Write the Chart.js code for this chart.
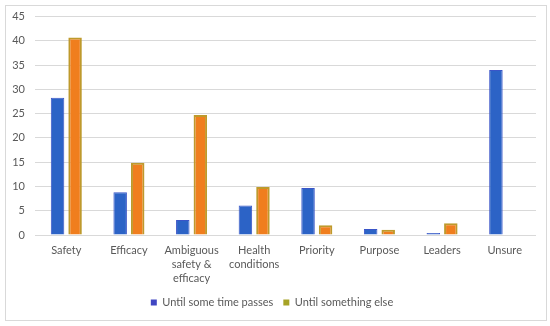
<!DOCTYPE html>
<html>
<head>
<meta charset="utf-8">
<script src="https://cdn.jsdelivr.net/npm/chart.js@4/dist/chart.umd.min.js"></script>
<style>
  html, body { margin: 0; padding: 0; background: #fff; }
  #wrap { position: relative; width: 550px; height: 326px; }
  #frame { position: absolute; left: 5px; top: 5px; width: 540px; height: 314px; border: 1px solid #D9D9D9; pointer-events: none; }
</style>
</head>
<body>
<div id="wrap">
  <canvas id="c" width="550" height="326"></canvas>
  <div id="frame"></div>
</div>
<script>
const categories = [
  'Safety',
  'Efficacy',
  ['Ambiguous', 'safety &', 'efficacy'],
  ['Health', 'conditions'],
  'Priority',
  'Purpose',
  'Leaders',
  'Unsure'
];
const seriesNames = ['Until some time passes', 'Until something else'];
const timePasses = [28.3, 8.8, 3.1, 6.1, 9.7, 1.25, 0.4, 34.0];
const somethingElse = [40.7, 14.9, 24.7, 9.9, 2.0, 1.1, 2.4, 0];
const yTicks = [0, 5, 10, 15, 20, 25, 30, 35, 40, 45];

const FONT = 'Lato, "Open Sans", sans-serif';
const TEXT = '#595959';

new Chart(document.getElementById('c'), {
  type: 'bar',
  data: {
    labels: categories,
    datasets: [
      {
        label: seriesNames[0],
        data: timePasses,
        backgroundColor: '#2C63C6',
        borderColor: '#3A55C8',
        borderWidth: 1,
        legendColor: '#4046C2'
      },
      {
        label: seriesNames[1],
        data: somethingElse,
        backgroundColor: '#F07E1E',
        borderColor: '#BE9A2C',
        borderWidth: 2,
        legendColor: '#A6A326'
      }
    ]
  },
  options: {
    responsive: false,
    animation: false,
    devicePixelRatio: 1,
    layout: { padding: { left: 8, right: 14, top: 16, bottom: 8 } },
    datasets: {
      bar: { categoryPercentage: 0.56, barPercentage: 0.77 }
    },
    plugins: {
      tooltip: { enabled: false },
      legend: {
        position: 'bottom',
        labels: {
          font: { family: FONT, size: 11 },
          color: TEXT,
          boxWidth: 6,
          boxHeight: 6,
          padding: 10,
          generateLabels(chart) {
            return chart.data.datasets.map((ds, i) => ({
              text: ds.label,
              fillStyle: ds.legendColor,
              strokeStyle: ds.legendColor,
              lineWidth: 0,
              fontColor: TEXT,
              datasetIndex: i,
              hidden: false
            }));
          }
        }
      }
    },
    scales: {
      x: {
        afterFit(scale) { scale.height = 52; },
        grid: { display: false },
        border: { display: false },
        ticks: {
          font: { family: FONT, size: 11, lineHeight: 14 / 11 },
          color: TEXT,
          maxRotation: 0,
          autoSkip: false,
          padding: 0
        }
      },
      y: {
        min: 0,
        max: 45,
        afterBuildTicks(scale) {
          scale.ticks = yTicks.map(v => ({ value: v }));
        },
        afterFit(scale) { scale.width = 27; },
        grid: { color: '#D9D9D9', drawTicks: false, lineWidth: 1 },
        border: { display: false },
        ticks: {
          font: { family: FONT, size: 11 },
          color: TEXT,
          padding: 10
        }
      }
    }
  }
});
</script>
</body>
</html>
